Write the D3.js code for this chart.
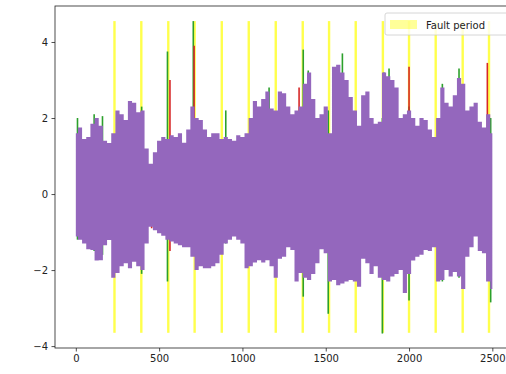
<!DOCTYPE html>
<html>
<head>
<meta charset="utf-8">
<script src="https://cdn.jsdelivr.net/npm/d3@7"></script>
<style>
  body { margin: 0; background: #fff; }
  svg { display: block; font-family: "DejaVu Sans", sans-serif; }
</style>
</head>
<body>
<svg id="chart" width="506" height="374"></svg>
<script>
// sample positions of the signal envelope
const sampleX = [0, 25, 50, 75, 100, 125, 150, 175, 200, 225, 250, 275, 300, 325, 350, 375, 400, 425, 450, 475,
  500, 525, 550, 575, 600, 625, 650, 675, 700, 725, 750, 775, 800, 825, 850, 875, 900, 925, 950, 975,
  1000, 1025, 1050, 1075, 1100, 1125, 1150, 1175, 1200, 1225, 1250, 1275, 1300, 1325, 1350, 1375, 1400, 1425, 1450, 1475,
  1500, 1525, 1550, 1575, 1600, 1625, 1650, 1675, 1700, 1725, 1750, 1775, 1800, 1825, 1850, 1875, 1900, 1925, 1950, 1975,
  2000, 2025, 2050, 2075, 2100, 2125, 2150, 2175, 2200, 2225, 2250, 2275, 2300, 2325, 2350, 2375, 2400, 2425, 2450, 2475,
  2500];
// purple signal: upper and lower edge of the dense trace
const purpleTop = [1.6, 1.75, 1.45, 1.5, 1.85, 2.0, 1.8, 1.4, 1.34, 1.6, 2.2, 2.1, 1.95, 2.45, 2.4, 2.15, 2.2, 1.2, 0.8, 1.1,
  1.4, 1.5, 1.45, 1.55, 1.5, 1.6, 1.35, 1.7, 2.3, 2.0, 1.95, 1.7, 1.5, 1.6, 1.6, 1.45, 1.5, 1.45, 1.4, 1.55,
  1.5, 1.6, 2.0, 2.45, 2.3, 2.5, 2.7, 2.25, 2.2, 2.7, 2.65, 2.3, 2.1, 2.2, 2.3, 2.9, 3.2, 2.5, 2.0, 2.1,
  2.3, 1.6, 3.35, 3.4, 3.2, 3.0, 2.55, 2.2, 1.8, 2.6, 2.7, 2.0, 1.85, 1.9, 3.2, 3.1, 3.0, 2.8, 2.0, 2.1,
  2.2, 2.0, 1.8, 2.0, 1.95, 1.7, 1.5, 2.0, 2.8, 2.4, 2.3, 2.6, 3.05, 2.9, 2.2, 2.3, 2.4, 1.9, 1.75, 2.1,
  1.6];
const purpleBottom = [-1.12, -1.2, -1.3, -1.45, -1.47, -1.75, -1.74, -1.35, -1.21, -2.2, -2.08, -1.9, -1.82, -1.95, -1.78, -1.9, -2.0, -1.3, -0.86, -0.95,
  -1.03, -1.1, -1.2, -1.25, -1.3, -1.35, -1.4, -1.4, -1.65, -2.0, -1.9, -1.95, -1.95, -1.9, -1.82, -1.6, -1.3, -1.2, -1.12, -1.2,
  -1.3, -1.95, -1.9, -1.8, -1.74, -1.8, -1.74, -1.9, -2.2, -1.7, -1.65, -1.4, -1.47, -2.3, -2.08, -2.2, -2.26, -2.1, -1.82, -1.45,
  -1.56, -2.3, -2.26, -2.4, -2.35, -2.3, -2.26, -2.3, -2.44, -1.7, -1.82, -2.1, -1.9, -2.2, -2.26, -2.3, -2.17, -2.1, -2.0, -2.6,
  -2.1, -1.75, -1.65, -1.6, -1.47, -1.5, -1.4, -2.3, -2.26, -2.0, -2.17, -2.05, -2.17, -2.5, -1.65, -1.4, -1.12, -1.5, -1.56, -2.3,
  -2.5];
// green and red traces only show where they poke out: [x, low, high]
const greenSpikes = [[10, -1.2, 2.0], [110, -1.5, 2.1], [160, -1.6, 2.05], [395, -2.1, 2.3], [550, -2.3, 3.75],
  [705, -1.6, 4.55], [900, -1.3, 2.2], [1160, -1.7, 2.8], [1365, -2.7, 3.8], [1395, -2.2, 3.25], [1515, -3.15, 2.2],
  [1600, -2.3, 3.7], [1840, -3.67, 2.0], [1850, -2.2, 3.2], [1880, -2.2, 3.3], [2000, -2.8, 2.3], [2200, -2.3, 2.9],
  [2300, -2.2, 3.3], [2490, -2.85, 2.0]];
const redSpikes = [[455, -0.9, 0.65], [565, -1.5, 3.0], [710, -1.5, 3.9], [1340, -2.0, 2.8], [2000, -2.0, 3.35],
  [2470, -2.0, 3.45]];
// fault periods (centre of each narrow band) and their vertical extent
const faultCenters = [232, 393, 555, 713, 876, 1038, 1200, 1362, 1520, 1680, 1843, 2000, 2160, 2322, 2480];
const faultRange = [-3.65, 4.55];
const xTicks = [0, 500, 1000, 1500, 2000, 2500];
const yTicks = [-4, -2, 0, 2, 4];

const svg = d3.select("#chart");
const mLeft = 55, mRight = 513, mTop = 6, mBottom = 348;

const x = d3.scaleLinear().domain([-125, 2624]).range([mLeft, mRight]);
const y = d3.scaleLinear().domain([-4.05, 4.947]).range([mBottom, mTop]);

svg.append("defs").append("clipPath").attr("id", "plotclip")
  .append("rect").attr("x", mLeft).attr("y", mTop).attr("width", mRight - mLeft).attr("height", mBottom - mTop);

const plot = svg.append("g").attr("clip-path", "url(#plotclip)");

// fault period bands
plot.append("g").selectAll("rect")
  .data(faultCenters)
  .join("rect")
  .attr("x", d => x(d) - 1.2)
  .attr("width", 2.4)
  .attr("y", y(faultRange[1]))
  .attr("height", y(faultRange[0]) - y(faultRange[1]))
  .attr("fill", "#ffff00")
  .attr("fill-opacity", 0.7);

const spikeLayer = (data, color) => plot.append("g").selectAll("line")
  .data(data)
  .join("line")
  .attr("x1", d => x(d[0])).attr("x2", d => x(d[0]))
  .attr("y1", d => y(d[1])).attr("y2", d => y(d[2]))
  .attr("stroke", color)
  .attr("stroke-width", 1.6);

spikeLayer(greenSpikes, "#2ca02c");
spikeLayer(redSpikes, "#d62728");

const area = d3.area()
  .curve(d3.curveStep)
  .x((d, i) => x(sampleX[i]))
  .y0((d, i) => y(purpleBottom[i]))
  .y1(d => y(d));

plot.append("path")
  .datum(purpleTop)
  .attr("d", area)
  .attr("fill", "#9467bd");

// axes
const xAxis = svg.append("g")
  .attr("transform", `translate(0,${mBottom})`)
  .call(d3.axisBottom(x).tickValues(xTicks).tickSize(3.5).tickPadding(3.5).tickFormat(d3.format("d")));
const yAxis = svg.append("g")
  .attr("transform", `translate(${mLeft},0)`)
  .call(d3.axisLeft(y).tickValues(yTicks).tickSize(3.5).tickPadding(3.5)
    .tickFormat(d => d < 0 ? "\u2212" + Math.abs(d) : d));

[xAxis, yAxis].forEach(g => {
  g.select(".domain").remove();
  g.selectAll(".tick line").attr("stroke", "#222").attr("stroke-width", 0.8);
  g.selectAll(".tick text").attr("fill", "#222").style("font-size", "10px").style("font-family", "DejaVu Sans");
});

// spines
svg.append("rect")
  .attr("x", mLeft).attr("y", mTop)
  .attr("width", mRight - mLeft).attr("height", mBottom - mTop)
  .attr("fill", "none").attr("stroke", "#222").attr("stroke-width", 0.8);

// legend
const legend = svg.append("g").attr("transform", "translate(385,13)");
legend.append("rect")
  .attr("width", 140).attr("height", 22).attr("rx", 2)
  .attr("fill", "#fff").attr("fill-opacity", 0.8)
  .attr("stroke", "#ccc").attr("stroke-width", 0.8);
legend.append("rect")
  .attr("x", 5).attr("y", 7).attr("width", 27).attr("height", 9)
  .attr("fill", "#ffff00").attr("fill-opacity", 0.4);
legend.append("text")
  .attr("x", 41).attr("y", 15.5)
  .attr("fill", "#222").style("font-size", "10px")
  .text("Fault period");
</script>
</body>
</html>
